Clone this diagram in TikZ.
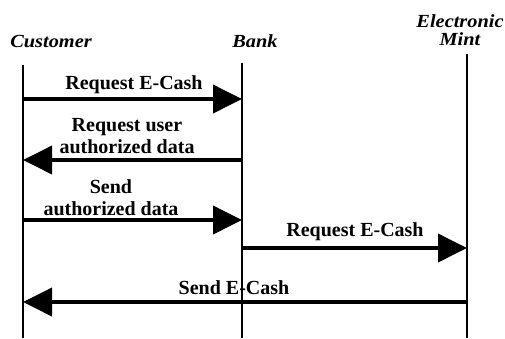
\documentclass[tikz,border=0pt]{standalone}
\usepackage{fontspec}
\setmainfont{Liberation Serif}
\usetikzlibrary{arrows.meta}
\begin{document}
\begin{tikzpicture}[x=1pt,y=-1pt,
  actor/.style={font=\fontsize{18.5}{19}\selectfont\bfseries\itshape, inner sep=0pt, align=center, xscale=1.1, transform shape},
  msg/.style={font=\fontsize{20}{22}\selectfont\bfseries, inner sep=0pt, align=center},
  lifeline/.style={line width=1.6pt},
  message/.style={line width=3.8pt, -{Triangle[length=29pt,width=28pt]}}]
  \useasboundingbox (0,0) rectangle (505,338);
  % participants
  \node[actor] (cust) at (51,41) {Customer};
  \node[actor] (bank) at (255,41) {Bank};
  \node[actor] (mint) at (460,30) {Electronic\\[-1pt]Mint};
  % lifelines
  \coordinate (cTop) at (23,65);  \coordinate (cBot) at (23,338);
  \coordinate (bTop) at (242,63); \coordinate (bBot) at (242,338);
  \coordinate (mTop) at (467,54); \coordinate (mBot) at (467,338);
  \draw[lifeline] (cTop) -- (cBot);
  \draw[lifeline] (bTop) -- (bBot);
  \draw[lifeline] (mTop) -- (mBot);
  % message endpoints
  \coordinate (c1) at (23,99);  \coordinate (b1) at (242,99);
  \coordinate (c2) at (23,160); \coordinate (b2) at (242,160);
  \coordinate (c3) at (23,220); \coordinate (b3) at (242,220);
  \coordinate (b4) at (242,248); \coordinate (m4) at (467,248);
  \coordinate (c5) at (23,302); \coordinate (m5) at (467,302);
  % messages
  \draw[message] (c1) -- (b1);
  \node[msg] (l1) at (134,85) {Request E-Cash};
  \draw[message] (b2) -- (c2);
  \node[msg] (l2) at (127,136) {Request user\\authorized data};
  \draw[message] (c3) -- (b3);
  \node[msg] (l3) at (111,198) {Send\\authorized data};
  \draw[message] (b4) -- (m4);
  \node[msg] (l4) at (355,232) {Request E-Cash};
  \draw[message] (m5) -- (c5);
  \node[msg] (l5) at (234,288) {Send E-Cash};
\end{tikzpicture}
\end{document}
